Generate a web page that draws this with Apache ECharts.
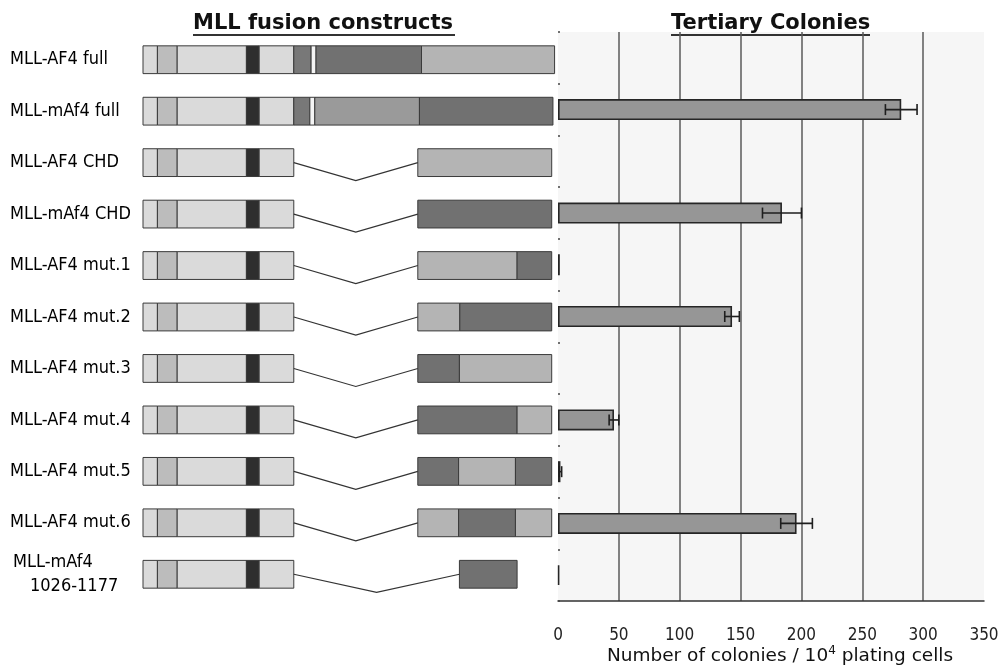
<!DOCTYPE html>
<html>
<head>
<meta charset="utf-8">
<title>MLL fusion constructs – tertiary colonies</title>
<script src="https://cdn.jsdelivr.net/npm/echarts@6/dist/echarts.min.js"></script>
<style>
  html, body { margin: 0; padding: 0; background: #ffffff; }
  #chart { width: 1002px; height: 668px; }
</style>
</head>
<body>
<div id="chart"></div>
<script>
// ---- data ---------------------------------------------------------------
const constructs = [
  'MLL-AF4 full', 'MLL-mAf4 full', 'MLL-AF4 CHD', 'MLL-mAf4 CHD',
  'MLL-AF4 mut.1', 'MLL-AF4 mut.2', 'MLL-AF4 mut.3', 'MLL-AF4 mut.4',
  'MLL-AF4 mut.5', 'MLL-AF4 mut.6', 'MLL-mAf4\n1026-1177'
];

// colonies per 10^4 plating cells (mean and error)
const colonies  = [0, 282, 0, 184, 1.5, 143, 0, 46, 2, 196, 1];
const colonyErr = [0, 13, 0, 16, 0, 6, 0, 4, 1, 13, 0];

const xTicks = [0, 50, 100, 150, 200, 250, 300, 350];

// construct maps on a 0–100 scale: [start, end, domain shade]
const mllPart = [[0, 3.5, 'pale'], [3.5, 8.3, 'tint'], [8.3, 25.1, 'pale'],
                 [25.1, 28.2, 'black'], [28.2, 36.6, 'pale']];
const fullTails = [
  [[36.6, 40.8, 'linker'], [40.8, 42.0, 'white'], [42.0, 67.6, 'dark'], [67.6, 99.9, 'grey']],
  [[36.6, 40.5, 'linker'], [40.5, 41.7, 'white'], [41.7, 67.1, 'mid'], [67.1, 99.5, 'dark']]
];
const chdParts = [
  [[66.7, 99.2, 'grey']],
  [[66.7, 99.2, 'dark']],
  [[66.7, 90.8, 'grey'], [90.8, 99.2, 'dark']],
  [[66.7, 76.9, 'grey'], [76.9, 99.2, 'dark']],
  [[66.7, 76.8, 'dark'], [76.8, 99.2, 'grey']],
  [[66.7, 90.8, 'dark'], [90.8, 99.2, 'grey']],
  [[66.7, 76.6, 'dark'], [76.6, 90.4, 'grey'], [90.4, 99.2, 'dark']],
  [[66.7, 76.6, 'grey'], [76.6, 90.4, 'dark'], [90.4, 99.2, 'grey']],
  [[76.8, 90.8, 'dark']]
];

// ---- styling ------------------------------------------------------------
const shadeFill = {
  pale: '#dadada', tint: '#bcbcbc', black: '#2e2e2e', linker: '#787878',
  white: '#f4f4f4', dark: '#717171', grey: '#b4b4b4', mid: '#9a9a9a'
};
const labelFont = '"DejaVu Sans Condensed", "Noto Sans", sans-serif';

// ---- derived series data ------------------------------------------------
const mapItems = [], mapShades = [], linkItems = [];
constructs.forEach((name, row) => {
  const tail = row < 2 ? fullTails[row] : chdParts[row - 2];
  mllPart.concat(tail).forEach(s => {
    mapItems.push([row, s[0], s[1]]);
    mapShades.push(s[2]);
  });
  if (row >= 2) {
    linkItems.push([row, mllPart[mllPart.length - 1][1], tail[0][0]]);
  }
});
const errItems = colonies.map((v, i) => [i, v - colonyErr[i], v + colonyErr[i]])
  .filter((d, i) => colonyErr[i] > 0);
// a zero count leaves no visible bar outline
const barItems = colonies.map(v => v > 0 ? v : { value: v, itemStyle: { borderWidth: 0 } });

const chart = echarts.init(document.getElementById('chart'));

chart.setOption({
  animation: false,
  backgroundColor: '#ffffff',
  graphic: [
    { type: 'text', left: 193, top: 13,
      style: { text: 'MLL fusion constructs', font: 'bold 21px "DejaVu Sans", sans-serif', fill: '#111' } },
    { type: 'rect', shape: { x: 193, y: 34, width: 262, height: 2 }, style: { fill: '#333' } },
    { type: 'text', left: 671, top: 13,
      style: { text: 'Tertiary Colonies', font: 'bold 21px "DejaVu Sans", sans-serif', fill: '#111' } },
    { type: 'rect', shape: { x: 671, y: 34, width: 199, height: 2 }, style: { fill: '#333' } }
  ],
  grid: [
    { left: 143, width: 412, top: 34, height: 566, outerBoundsMode: 'none' },
    { left: 558, width: 426, top: 32, height: 569, outerBoundsMode: 'none', show: true,
      backgroundColor: '#f6f6f6', borderWidth: 0 }
  ],
  xAxis: [
    { gridIndex: 0, type: 'value', min: 0, max: 100, show: false },
    { gridIndex: 1, type: 'value', min: 0, max: 350, interval: 50,
      axisLine: { show: true, lineStyle: { color: '#333', width: 1.5 } },
      axisTick: { show: false },
      splitLine: { show: true, showMinLine: false, showMaxLine: false,
                   lineStyle: { color: '#5a5a5a', width: 1.5 } },
      axisLabel: { margin: 26, fontSize: 17, color: '#222', fontFamily: labelFont,
                   formatter: v => xTicks.includes(v) ? String(v) : '' },
      name: '{t|Number of colonies / 10}{s|4}{t| plating cells}',
      nameLocation: 'middle', nameGap: 44, nameMoveOverlap: false,
      nameTextStyle: {
        padding: [0, 0, 0, 18],
        rich: {
          t: { fontSize: 18.5, fontFamily: '"DejaVu Sans", sans-serif', color: '#111', lineHeight: 22 },
          s: { fontSize: 12, fontFamily: '"DejaVu Sans", sans-serif', color: '#111', lineHeight: 12, verticalAlign: 'top' }
        }
      }
    }
  ],
  yAxis: [
    { gridIndex: 0, type: 'category', data: constructs, inverse: true,
      axisLine: { show: false }, axisTick: { show: false },
      axisLabel: {
        align: 'left', margin: 133, fontSize: 18, color: '#000', fontFamily: labelFont,
        formatter: v => {
          const parts = v.split('\n');
          return parts.length > 1 ? '{a|' + parts[0] + '}\n{b|' + parts[1] + '}' : v;
        },
        rich: {
          a: { fontSize: 18, fontFamily: labelFont, color: '#000', lineHeight: 24, padding: [0, 0, 0, 3] },
          b: { fontSize: 18, fontFamily: labelFont, color: '#000', lineHeight: 24, padding: [0, 0, 0, 20] }
        }
      }
    },
    { gridIndex: 1, type: 'category', data: constructs, inverse: true,
      axisLine: { show: false },
      axisTick: { show: true, inside: true, length: 2, lineStyle: { color: '#444', width: 1.5 } },
      axisLabel: { show: false }
    }
  ],
  series: [
    { // construct domain boxes
      type: 'custom', xAxisIndex: 0, yAxisIndex: 0, clip: false,
      encode: { x: [1, 2], y: 0 },
      data: mapItems,
      renderItem: (params, api) => {
        const row = api.value(0);
        const p0 = api.coord([api.value(1), row]);
        const p1 = api.coord([api.value(2), row]);
        const h = api.size([0, 1])[1] * 0.54;
        return {
          type: 'rect',
          shape: { x: p0[0], y: p0[1] - h / 2, width: p1[0] - p0[0], height: h },
          style: { fill: shadeFill[mapShades[params.dataIndex]], stroke: '#3a3a3a', lineWidth: 1 }
        };
      }
    },
    { // deletion connectors between the MLL part and the CHD part
      type: 'custom', xAxisIndex: 0, yAxisIndex: 0, clip: false,
      encode: { x: [1, 2], y: 0 },
      data: linkItems,
      renderItem: (params, api) => {
        const row = api.value(0);
        const a = api.coord([api.value(1), row]);
        const b = api.coord([api.value(2), row]);
        const drop = api.size([0, 1])[1] * 0.35;
        return {
          type: 'polyline',
          shape: { points: [a, [(a[0] + b[0]) / 2, a[1] + drop], b] },
          style: { stroke: '#333', lineWidth: 1.2, fill: null }
        };
      }
    },
    { // colony counts
      type: 'bar', xAxisIndex: 1, yAxisIndex: 1,
      data: barItems, barWidth: 21,
      itemStyle: { color: '#969696', borderColor: '#262626', borderWidth: 1.6 }
    },
    { // error bars
      type: 'custom', xAxisIndex: 1, yAxisIndex: 1, z: 5,
      encode: { x: [1, 2], y: 0 },
      data: errItems,
      renderItem: (params, api) => {
        const row = api.value(0);
        const lo = api.coord([api.value(1), row]);
        const hi = api.coord([api.value(2), row]);
        const cap = 5.5;
        const st = { stroke: '#1e1e1e', lineWidth: 1.6 };
        return {
          type: 'group',
          children: [
            { type: 'line', shape: { x1: lo[0], y1: lo[1], x2: hi[0], y2: hi[1] }, style: st },
            { type: 'line', shape: { x1: lo[0], y1: lo[1] - cap, x2: lo[0], y2: lo[1] + cap }, style: st },
            { type: 'line', shape: { x1: hi[0], y1: hi[1] - cap, x2: hi[0], y2: hi[1] + cap }, style: st }
          ]
        };
      }
    }
  ]
});
</script>
</body>
</html>
